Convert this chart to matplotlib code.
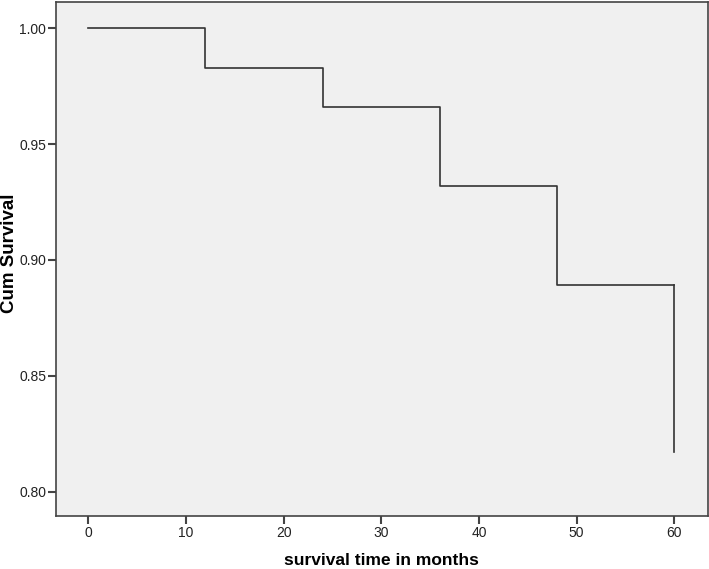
import matplotlib.pyplot as plt

# Kaplan-Meier survival steps
times = [0, 12, 24, 36, 48, 60]
survival = [1.000, 0.983, 0.966, 0.932, 0.889, 0.817]
x_ticks = [0, 10, 20, 30, 40, 50, 60]
y_ticks = [0.80, 0.85, 0.90, 0.95, 1.00]

plt.rcParams['font.family'] = ['Liberation Sans', 'DejaVu Sans']

fig = plt.figure(figsize=(7.09, 5.69), dpi=100)
ax = fig.add_axes([0.079, 0.093, 0.919, 0.904])
ax.set_facecolor('#f0f0f0')

# step curve, final drop at the last time point
ax.step(times[:-1] + [times[-1]], survival[:-1] + [survival[-2]], where='post', color='#333333', linewidth=1.2)
ax.plot([times[-1], times[-1]], [survival[-2], survival[-1]], color='#333333', linewidth=1.2)

ax.set_xlim(-3.3, 63.4)
ax.set_ylim(0.7895, 1.0114)
ax.set_xticks(x_ticks)
ax.set_yticks(y_ticks)
ax.set_yticklabels([f"{v:.2f}" for v in y_ticks])
ax.tick_params(direction='out', length=5.5, width=1.5, color='#444444', labelsize=10,
               labelcolor='#222222', pad=1.5)
for s in ax.spines.values():
    s.set_color('#444444')
    s.set_linewidth(1.2)

ax.set_xlabel("survival time in months", fontsize=12.5, fontweight='bold', va='center')
ax.set_ylabel("Cum Survival", fontsize=13.5, fontweight='bold', va='center')
ax.xaxis.set_label_coords(0.4995, -0.087)
ax.yaxis.set_label_coords(-0.072, 0.511)

fig.savefig("out.png", dpi=100)
